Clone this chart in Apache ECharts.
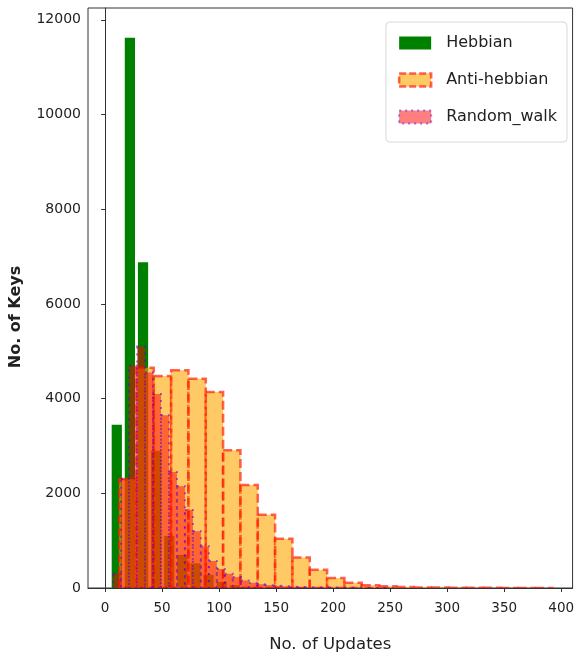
<!DOCTYPE html>
<html>
<head>
<meta charset="utf-8">
<script src="https://cdn.jsdelivr.net/npm/echarts@6/dist/echarts.min.js"></script>
<style>
html,body{margin:0;padding:0;background:#fff;}
#chart{width:577px;height:658px;}
</style>
</head>
<body>
<div id="chart"></div>
<script>
// ---- data ----
const seriesNames = ['Hebbian', 'Anti-hebbian', 'Random_walk'];

const hebbianEdges  = [4.5, 16, 27.5, 39, 50.5, 62, 73.5, 85, 96.5, 108, 119.5, 131];
const hebbianCounts = [3450, 11620, 6880, 2900, 1100, 700, 520, 280, 130, 60, 25];

const antiEdges  = [12.3, 27.5, 42.7, 57.9, 73.1, 88.3, 103.5, 118.7, 133.9, 149.1, 164.3, 179.5, 194.7,
                    209.9, 225.1, 240.3, 255.5, 270.7, 285.9, 301.1, 316.3, 331.5, 346.7, 361.9, 377.1, 392.3];
const antiCounts = [2300, 4650, 4480, 4600, 4420, 4140, 2910, 2175, 1545, 1040, 645, 385, 210,
                    110, 60, 35, 20, 12, 8, 6, 4, 3, 2, 2, 1];

const rwEdges  = [7, 14, 21, 28, 35, 42, 49, 56, 63, 70, 77, 84, 91, 98, 105, 112, 119, 126, 133, 140,
                  147, 154, 161, 168, 175, 182, 189, 196, 203, 210, 217, 224, 231, 238, 245, 252];
const rwCounts = [300, 2300, 4700, 5100, 4550, 4100, 3650, 2450, 2150, 1650, 1200, 880, 570, 400, 300,
                  230, 160, 110, 80, 60, 45, 35, 25, 20, 15, 12, 10, 8, 6, 5, 4, 3, 2, 2, 1];

const xTicks = [0, 50, 100, 150, 200, 250, 300, 350, 400];
const yTicks = [0, 2000, 4000, 6000, 8000, 10000, 12000];

// ---- build ----
function toBins(edges, counts) {
  return counts.map((c, i) => [edges[i], edges[i + 1], c]);
}

function makeRender(style, rwidth) {
  return function (params, api) {
    const x0 = api.value(0), x1 = api.value(1), y = api.value(2);
    const c = (x0 + x1) / 2, h = (x1 - x0) * rwidth / 2;
    const p0 = api.coord([c - h, y]);
    const p1 = api.coord([c + h, 0]);
    return {
      type: 'rect',
      shape: { x: p0[0], y: p0[1], width: p1[0] - p0[0], height: p1[1] - p0[1] },
      style: Object.assign({}, style)
    };
  };
}

const hebStyle  = { fill: '#008000', stroke: null, lineWidth: 0 };
const antiStyle = { fill: 'rgba(255,165,0,0.6)', stroke: 'rgba(255,20,0,0.65)', lineWidth: 2.5, lineDash: [9, 4] };
const rwStyle   = { fill: 'rgba(255,0,0,0.5)', stroke: 'rgba(70,0,230,0.5)', lineWidth: 2, lineDash: [2, 5] };

const font = 'DejaVu Sans';
const chart = echarts.init(document.getElementById('chart'), null, { renderer: 'canvas' });

chart.setOption({
  animation: false,
  backgroundColor: '#ffffff',
  grid: { left: 85, right: 2, top: 8, bottom: 68, show: true, borderColor: '#333', borderWidth: 1, backgroundColor: 'transparent' },
  xAxis: {
    type: 'value', min: -15, max: 410,
    name: 'No. of Updates', nameLocation: 'middle', nameGap: 48,
    nameTextStyle: { fontFamily: font, fontSize: 16.5, color: '#222' },
    axisLine: { show: true, onZero: false, lineStyle: { color: '#333', width: 1 } },
    axisTick: { show: true, length: 4, lineStyle: { color: '#333' }, customValues: xTicks },
    axisLabel: { fontFamily: font, fontSize: 13.5, color: '#222', margin: 13, customValues: xTicks, formatter: v => String(v) },
    splitLine: { show: false }
  },
  yAxis: {
    type: 'value', min: 0, max: 12250,
    name: 'No. of Keys', nameLocation: 'middle', nameGap: 64, nameRotate: 90,
    nameTextStyle: { fontFamily: font, fontSize: 16, fontWeight: 'bold', color: '#222', padding: [0, 38, 0, 0] },
    axisLine: { show: true, lineStyle: { color: '#333', width: 1 } },
    axisTick: { show: true, length: 4, lineStyle: { color: '#333' }, customValues: yTicks },
    axisLabel: { fontFamily: font, fontSize: 14, color: '#222', margin: 7, customValues: yTicks, formatter: v => String(v) },
    splitLine: { show: false }
  },
  legend: {
    orient: 'vertical', right: 10, top: 22,
    backgroundColor: '#fff', borderColor: '#d8d8d8', borderWidth: 1, borderRadius: 4,
    padding: [10, 10, 14, 12], itemGap: 15, itemWidth: 32, itemHeight: 13,
    textStyle: { fontFamily: font, fontSize: 16, color: '#222', padding: [0, 0, 0, 10], lineHeight: 22 },
    selectedMode: false,
    data: [
      { name: seriesNames[0], icon: 'rect', itemStyle: { color: '#008000', borderWidth: 0 } },
      { name: seriesNames[1], icon: 'rect', itemStyle: { color: 'rgba(255,165,0,0.6)', borderColor: 'rgba(255,20,0,0.65)', borderWidth: 2.5, borderType: [7, 3] } },
      { name: seriesNames[2], icon: 'rect', itemStyle: { color: 'rgba(255,0,0,0.5)', borderColor: 'rgba(70,0,230,0.5)', borderWidth: 2, borderType: [2, 4] } }
    ]
  },
  series: [
    { name: seriesNames[0], type: 'custom', renderItem: makeRender(hebStyle, 0.78), encode: { x: [0, 1], y: 2 },
      itemStyle: { color: '#008000' }, data: toBins(hebbianEdges, hebbianCounts), clip: true },
    { name: seriesNames[1], type: 'custom', renderItem: makeRender(antiStyle, 1), encode: { x: [0, 1], y: 2 },
      itemStyle: { color: 'rgba(255,165,0,0.6)' }, data: toBins(antiEdges, antiCounts), clip: true },
    { name: seriesNames[2], type: 'custom', renderItem: makeRender(rwStyle, 1), encode: { x: [0, 1], y: 2 },
      itemStyle: { color: 'rgba(255,0,0,0.5)' }, data: toBins(rwEdges, rwCounts), clip: true }
  ]
});
</script>
</body>
</html>
